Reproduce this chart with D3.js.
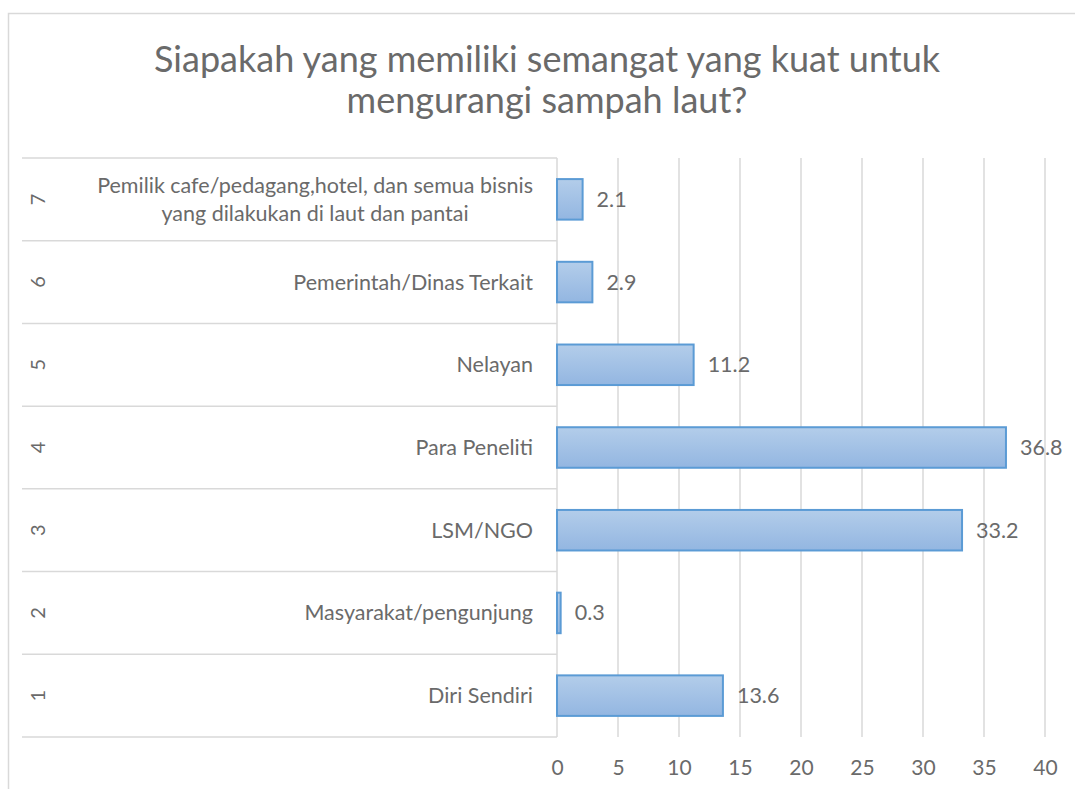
<!DOCTYPE html>
<html>
<head>
<meta charset="utf-8">
<script src="https://d3js.org/d3.v7.min.js"></script>
<style type="text/css">
    body { margin: 0; background: #fff; }
    text { font-family: Lato, "Open Sans", sans-serif; fill: #6a6a6a; }
</style>
</head>
<body>
<div id="chartHere"></div>
<script>

    // data, bottom category first
    var groups = [ '1', '2', '3', '4', '5', '6', '7' ];
    var categories = [
        [ 'Diri Sendiri' ],
        [ 'Masyarakat/pengunjung' ],
        [ 'LSM/NGO' ],
        [ 'Para Peneliti' ],
        [ 'Nelayan' ],
        [ 'Pemerintah/Dinas Terkait' ],
        [ 'Pemilik cafe/pedagang,hotel, dan semua bisnis', 'yang dilakukan di laut dan pantai' ]
    ];
    var values = [ 13.6, 0.3, 33.2, 36.8, 11.2, 2.9, 2.1 ];
    var ticks = [ 0, 5, 10, 15, 20, 25, 30, 35, 40 ];
    var titleLines = [ 'Siapakah yang memiliki semangat yang kuat untuk', 'mengurangi sampah laut?' ];

    var dims = { width: 1075, height: 789 };
    var plot = { left: 557, right: 1045, top: 158, bottom: 737 };

    var svg = d3.select('#chartHere').append('svg')
        .attr('width', dims.width)
        .attr('height', dims.height);

    var defs = svg.append('defs');
    var grad = defs.append('linearGradient')
        .attr('id', 'barFill')
        .attr('x1', 0).attr('y1', 0).attr('x2', 0).attr('y2', 1);
    grad.append('stop').attr('offset', '0%').attr('stop-color', '#b3cdea');
    grad.append('stop').attr('offset', '100%').attr('stop-color', '#93b6e1');

    // chart frame
    svg.append('rect')
        .attr('x', 8.5).attr('y', 13.5)
        .attr('width', dims.width + 10).attr('height', dims.height + 10)
        .attr('fill', 'none')
        .attr('stroke', '#d9d9d9')
        .attr('stroke-width', 1.5);

    // title
    svg.selectAll('text.title')
        .data(titleLines)
        .enter().append('text')
        .attr('class', 'title')
        .attr('x', 547)
        .attr('y', function (d, i) { return 72 + i * 41; })
        .attr('text-anchor', 'middle')
        .attr('font-size', 36)
        .text(function (d) { return d; });

    var xScale = d3.scaleLinear()
        .domain([ 0, 40 ])
        .range([ plot.left, plot.right ]);

    var yScale = d3.scaleBand()
        .domain(groups.slice().reverse())
        .range([ plot.top, plot.bottom ]);

    // vertical gridlines
    svg.selectAll('line.grid')
        .data(ticks)
        .enter().append('line')
        .attr('class', 'grid')
        .attr('x1', function (d) { return xScale(d); })
        .attr('x2', function (d) { return xScale(d); })
        .attr('y1', plot.top)
        .attr('y2', plot.bottom)
        .attr('stroke', '#d9d9d9')
        .attr('stroke-width', 1.5);

    // x axis labels
    var xAxis = d3.axisBottom(xScale).tickValues(ticks).tickSize(0).tickPadding(23);
    var gx = svg.append('g')
        .attr('transform', 'translate(0,' + plot.bottom + ')')
        .call(xAxis);
    gx.select('.domain').remove();
    gx.selectAll('text')
        .attr('font-size', 21)
        .attr('fill', '#6a6a6a')
        .style('font-family', 'Lato, sans-serif');

    // category box separators
    var bounds = groups.map(function (g) { return yScale(g); }).concat([ plot.bottom ]);
    svg.selectAll('line.sep')
        .data(bounds)
        .enter().append('line')
        .attr('class', 'sep')
        .attr('x1', 22)
        .attr('x2', plot.left)
        .attr('y1', function (d) { return d; })
        .attr('y2', function (d) { return d; })
        .attr('stroke', '#d9d9d9')
        .attr('stroke-width', 1.5);

    // outer level labels, rotated
    svg.selectAll('text.group')
        .data(groups)
        .enter().append('text')
        .attr('class', 'group')
        .attr('transform', function (d) {
            return 'translate(38,' + (yScale(d) + yScale.bandwidth() / 2) + ') rotate(-90)';
        })
        .attr('text-anchor', 'middle')
        .attr('dy', '0.35em')
        .attr('font-size', 20)
        .text(function (d) { return d; });

    // inner level labels, block right-aligned, lines centred
    var labelRight = 533;
    groups.forEach(function (g, i) {
        var lines = categories[i];
        var cy = yScale(g) + yScale.bandwidth() / 2;
        var t = svg.append('text')
            .attr('class', 'cat')
            .attr('font-size', 21.5)
            .attr('text-anchor', 'middle');
        lines.forEach(function (line, j) {
            t.append('tspan')
                .attr('x', 0)
                .attr('y', cy + (j - (lines.length - 1) / 2) * 28)
                .attr('dy', '0.35em')
                .text(line);
        });
        var w = t.node().getBBox().width;
        t.selectAll('tspan').attr('x', labelRight - w / 2);
    });

    // bars
    var barH = yScale.bandwidth() * 0.49;
    svg.selectAll('rect.bar')
        .data(values)
        .enter().append('rect')
        .attr('class', 'bar')
        .attr('x', xScale(0))
        .attr('y', function (d, i) { return yScale(groups[i]) + (yScale.bandwidth() - barH) / 2; })
        .attr('width', function (d) { return xScale(d) - xScale(0); })
        .attr('height', barH)
        .attr('fill', 'url(#barFill)')
        .attr('stroke', '#5b9bd5')
        .attr('stroke-width', 2);

    // data labels
    svg.selectAll('text.value')
        .data(values)
        .enter().append('text')
        .attr('class', 'value')
        .attr('x', function (d) { return xScale(d) + 14; })
        .attr('y', function (d, i) { return yScale(groups[i]) + yScale.bandwidth() / 2; })
        .attr('dy', '0.35em')
        .attr('font-size', 21.5)
        .text(function (d) { return d; });

</script>
</body>
</html>
